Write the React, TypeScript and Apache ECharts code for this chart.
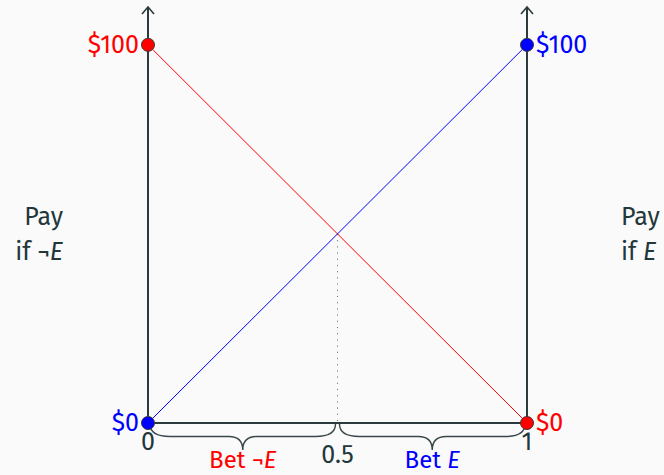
import React, { useEffect, useRef } from 'react';
import * as echarts from 'echarts';

// ---- data ----
const xTicks = [0, 0.5, 1];
const yMaxArrow = 110;
const redPoints = [[0, 100], [1, 0]];
const bluePoints = [[0, 0], [1, 100]];
const redLabels = ['$100', '$0'];
const blueLabels = ['$0', '$100'];
const crossingDrop = [[0.5, 50], [0.5, 0]];
const verticalAxesAt = [0, 1];
const braceRanges = [[0, 0.5], [0.5, 1]];
const braceTexts = ['Bet ¬', 'Bet '];

// ---- styles ----
const FONT = "'Fira Sans', 'Open Sans', sans-serif";
const TEXT = '#23373b';
const AXIS = '#2b3a3d';
const RED = '#ff0000';
const BLUE = '#0000ff';
const braceColors = [RED, BLUE];
const FS = 25;
const FS_BET = 24;

export default function App() {
  const ref = useRef<HTMLDivElement>(null);
  useEffect(() => {
    if (!ref.current) return;
    const chart = echarts.init(ref.current, undefined, { renderer: 'svg' });
    const labelBase = { show: true, fontSize: FS, fontFamily: FONT, distance: 2 };
    const richPlain = (c: string, s = FS) => ({ fill: c, fontSize: s, fontFamily: FONT, lineHeight: s });
    const richItal = (c: string, s = FS) => ({ fill: c, fontSize: s, fontFamily: FONT, fontStyle: 'italic', lineHeight: s });
    const option: any = {
      animation: false,
      backgroundColor: '#fafafa',
      grid: { left: 148, right: 137, top: 7, bottom: 52 },
      xAxis: {
        type: 'value', min: 0, max: 1, interval: 0.5,
        axisLine: { show: true, lineStyle: { color: AXIS, width: 2 } },
        axisTick: { show: false },
        splitLine: { show: false },
        axisLabel: {
          margin: 6,
          formatter: (v: number) => (v === xTicks[1] ? `{m|${v}}` : `{e|${v}}`),
          rich: {
            e: { fontSize: FS, fontFamily: FONT, color: TEXT, lineHeight: FS },
            m: { fontSize: FS, fontFamily: FONT, color: TEXT, lineHeight: FS, padding: [27, 0, 0, 0] },
          },
        },
      },
      yAxis: { type: 'value', min: 0, max: yMaxArrow, show: false },
      graphic: [
        { type: 'text', x: 63, y: 217, style: { text: 'Pay', fill: TEXT, font: `${FS}px ${FONT}`, align: 'right', verticalAlign: 'middle', textAlign: 'right', textVerticalAlign: 'middle' } },
        { type: 'text', x: 63, y: 252, style: { text: '{n|if ¬}{i|E}', fill: TEXT, font: `${FS}px ${FONT}`, align: 'right', verticalAlign: 'middle', textAlign: 'right', textVerticalAlign: 'middle', rich: { n: richPlain(TEXT), i: richItal(TEXT) } } },
        { type: 'text', x: 621, y: 217, style: { text: 'Pay', fill: TEXT, font: `${FS}px ${FONT}`, align: 'left', verticalAlign: 'middle', textAlign: 'left', textVerticalAlign: 'middle' } },
        { type: 'text', x: 621, y: 252, style: { text: '{n|if }{i|E}', fill: TEXT, font: `${FS}px ${FONT}`, align: 'left', verticalAlign: 'middle', textAlign: 'left', textVerticalAlign: 'middle', rich: { n: richPlain(TEXT), i: richItal(TEXT) } } },
      ],
      series: [
        {
          type: 'custom', z: 1, clip: false, silent: true,
          data: verticalAxesAt.map((x) => [x]),
          renderItem: (params: any, api: any) => {
            const x = api.value(0);
            const b = api.coord([x, 0]);
            const t = api.coord([x, yMaxArrow]);
            return {
              type: 'group',
              children: [
                { type: 'line', shape: { x1: b[0], y1: b[1] + 1, x2: t[0], y2: t[1] + 1 }, style: { stroke: AXIS, lineWidth: 2 } },
                { type: 'polyline', shape: { points: [[t[0] - 6, t[1] + 7], [t[0], t[1]], [t[0] + 6, t[1] + 7]] }, style: { stroke: AXIS, lineWidth: 1.6, fill: 'none' } },
              ],
            };
          },
        },
        {
          type: 'custom', z: 1, clip: false, silent: true,
          data: braceRanges,
          renderItem: (params: any, api: any) => {
            const i = params.dataIndex;
            const a = api.coord([api.value(0), 0]);
            const b = api.coord([api.value(1), 0]);
            const y0 = a[1] + 1;
            const h1 = y0 + 12.5;
            const h2 = y0 + 26;
            const xa = a[0] + 2;
            const xb = b[0] - 2;
            const xm = (a[0] + b[0]) / 2;
            const r = 20;
            const rm = 14;
            const d = `M${xa} ${y0} Q${xa} ${h1} ${xa + r} ${h1} L${xm - rm} ${h1} Q${xm} ${h1} ${xm} ${h2} Q${xm} ${h1} ${xm + rm} ${h1} L${xb - r} ${h1} Q${xb} ${h1} ${xb} ${y0}`;
            const c = braceColors[i];
            return {
              type: 'group',
              children: [
                { type: 'path', shape: { pathData: d }, style: { stroke: '#3a4749', lineWidth: 1.4, fill: 'none' } },
                {
                  type: 'text',
                  x: xm, y: y0 + 36,
                  style: {
                    text: `{n|${braceTexts[i]}}{i|E}`,
                    fill: c, font: `${FS_BET}px ${FONT}`,
                    align: 'center', verticalAlign: 'middle', textAlign: 'center', textVerticalAlign: 'middle',
                    rich: { n: richPlain(c, FS_BET), i: richItal(c, FS_BET) },
                  },
                },
              ],
            };
          },
        },
        {
          type: 'line', z: 2, silent: true, symbol: 'none',
          data: crossingDrop,
          lineStyle: { color: '#777', width: 1, type: [1.2, 5] },
        },
        {
          type: 'line', z: 3, silent: true,
          data: redPoints.map((p, i) => ({
            value: p,
            label: { ...labelBase, color: RED, position: i === 0 ? 'left' : 'right', formatter: redLabels[i] },
          })),
          symbol: 'circle', symbolSize: 13,
          itemStyle: { color: RED, borderColor: '#3a3a3a', borderWidth: 1 },
          lineStyle: { color: RED, width: 1 },
        },
        {
          type: 'line', z: 3, silent: true,
          data: bluePoints.map((p, i) => ({
            value: p,
            label: { ...labelBase, color: BLUE, position: i === 0 ? 'left' : 'right', formatter: blueLabels[i] },
          })),
          symbol: 'circle', symbolSize: 13,
          itemStyle: { color: BLUE, borderColor: '#3a3a3a', borderWidth: 1 },
          lineStyle: { color: BLUE, width: 1 },
        },
      ],
    };
    chart.setOption(option);
    return () => chart.dispose();
  }, []);
  return <div ref={ref} style={{ position: 'absolute', left: 0, top: 0, width: 664, height: 475 }} />;
}
